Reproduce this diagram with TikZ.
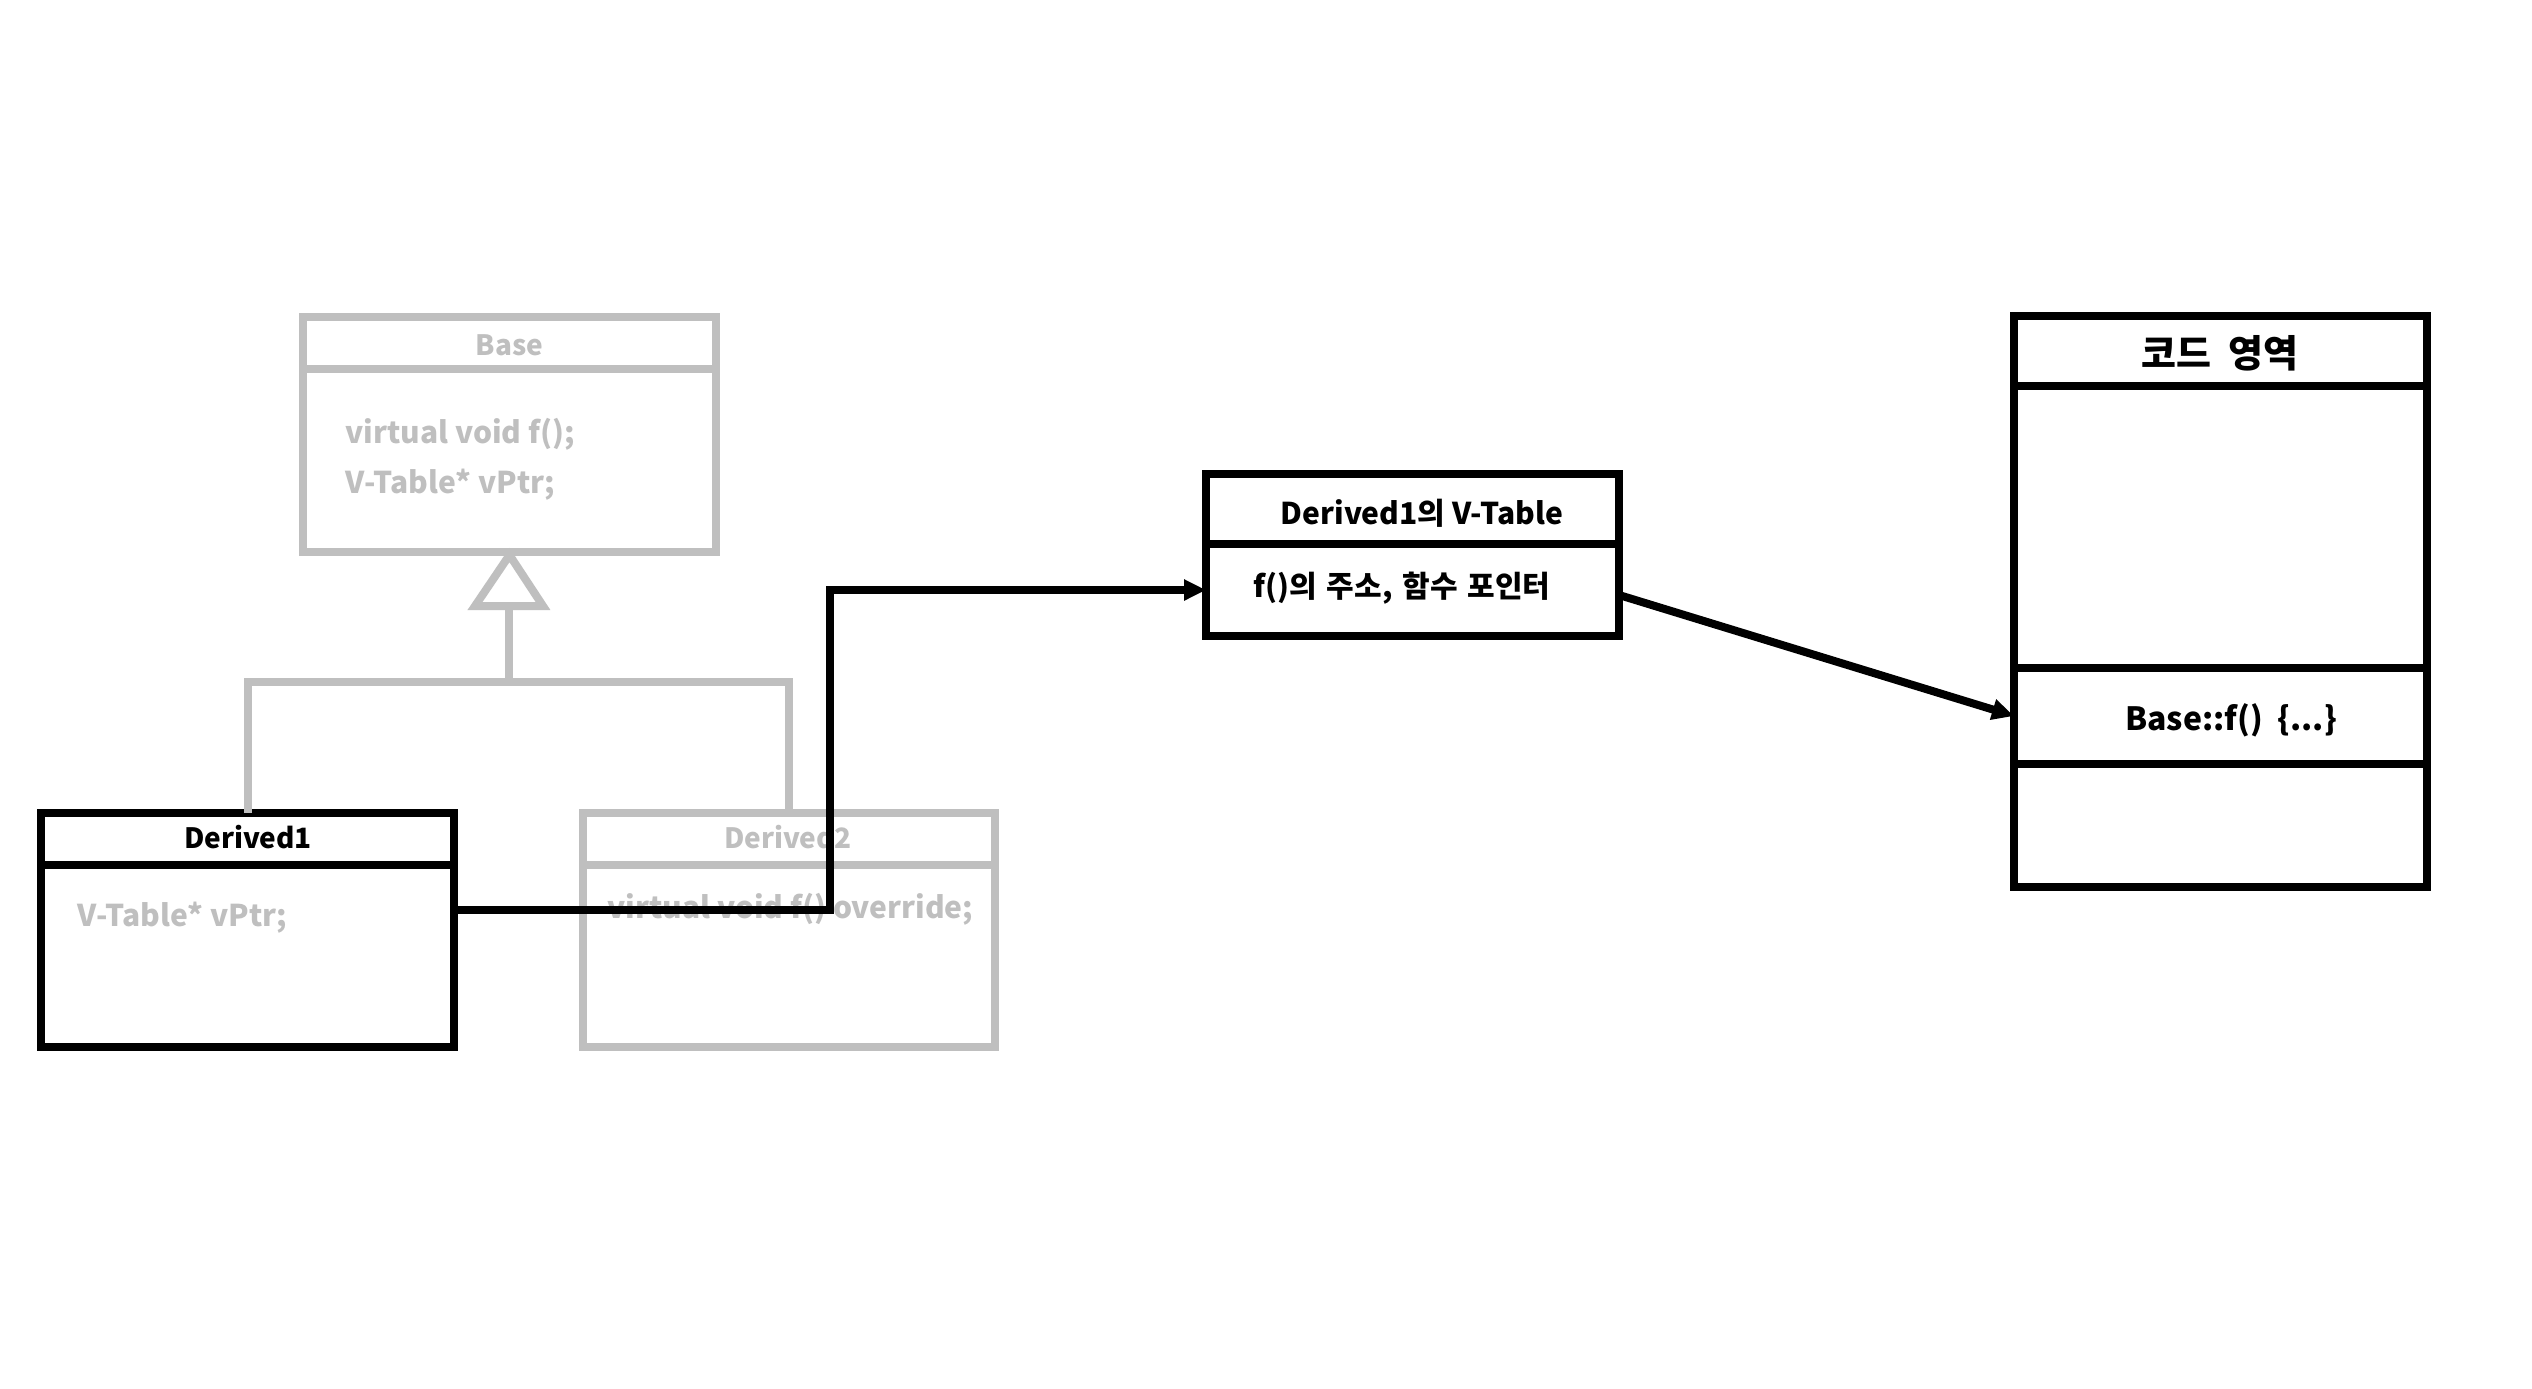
\documentclass[tikz,border=0pt]{standalone}
\usepackage{fontspec}
\setmainfont{Noto Sans CJK KR}
\usetikzlibrary{arrows.meta,calc}
\definecolor{lgrey}{HTML}{BFBFBF}
\begin{document}
\begin{tikzpicture}[x=0.5pt,y=-0.5pt,
  box/.style={draw, line width=4pt, inner sep=0pt, outer sep=0pt, rectangle},
  gbox/.style={box, draw=lgrey},
  bbox/.style={box, draw=black},
  row/.style={inner sep=0pt, outer sep=0pt, rectangle, minimum width=206.5pt},
  gline/.style={draw=lgrey, line width=4pt},
  bline/.style={draw=black, line width=4pt},
  arr/.style={bline, -{Triangle[length=11pt,width=10pt]}},
  ttl/.style={inner sep=0pt, font=\bfseries\fontsize{14pt}{16pt}\selectfont},
  mem/.style={inner sep=0pt, font=\bfseries\fontsize{15pt}{18pt}\selectfont},
]
\useasboundingbox (0,0) rectangle (2532,1388);
\fill[white] (0,0) rectangle (2532,1388);

% Base
\node[gbox, minimum width=206.5pt, minimum height=117.5pt] (base) at (509.5,434.5) {};
\draw[gline] (base.west |- 0,369) -- (base.east |- 0,369);
\node[ttl, text=lgrey] (basettl) at (509.5,345) {Base};
\node[mem, text=lgrey, anchor=west] (basem1) at (345,434) {virtual void f();};
\node[mem, text=lgrey, anchor=west] (basem2) at (345,485) {V-Table* vPtr;};

% Derived1
\node[bbox, minimum width=206.5pt, minimum height=117pt] (d1) at (247.5,930) {};
\draw[bline] (d1.west |- 0,865) -- (d1.east |- 0,865);
\node[ttl, text=black] (d1ttl) at (248,837) {Derived1};
\node[mem, text=lgrey, anchor=west] (d1m) at (77,918) {V-Table* vPtr;};

% Derived2
\node[gbox, minimum width=206pt, minimum height=117pt] (d2) at (789,930) {};
\draw[gline] (d2.west |- 0,865) -- (d2.east |- 0,865);
\node[ttl, text=lgrey] (d2ttl) at (788,837) {Derived2};
\node[mem, text=lgrey, anchor=west] (d2m) at (607,909) {virtual void f() override;};

% inheritance
\coordinate (jn) at (509,682);
\coordinate (tb) at (509,606);
\draw[gline] (d1.north) |- (jn) -| (d2.north);
\draw[gline] (jn) -- (tb);
\draw[draw=lgrey, line width=4pt, fill=white, line join=miter] ($(base.south)+(0,3)$) -- ($(tb)+(-34,0)$) -- ($(tb)+(34,0)$) -- cycle;

% V-Table
\node[bbox, minimum width=206.5pt, minimum height=81pt] (vt) at (1412.5,555) {};
\draw[bline] (vt.west |- 0,544) -- (vt.east |- 0,544);
\node[mem, text=black] (vtttl) at (1422,513) {Derived1의 V-Table};
\node[row, minimum height=46pt] (vtentry) at (1412.5,590) {};
\node[inner sep=0pt, text=black, anchor=west, font=\bfseries\fontsize{15pt}{18pt}\selectfont] (vtm) at (1253,588) {\spaceskip=0.33em\relax f()의 주소, 함수 포인터};

% code area
\node[bbox, minimum width=206.5pt, minimum height=285.5pt] (code) at (2220.5,601.5) {};
\draw[bline] (code.west |- 0,386) -- (code.east |- 0,386);
\draw[bline] (code.west |- 0,668) -- (code.east |- 0,668);
\draw[bline] (code.west |- 0,764) -- (code.east |- 0,764);
\node[inner sep=0pt, font=\bfseries\fontsize{19pt}{22pt}\selectfont] (codettl) at (2220,353) {\spaceskip=0.45em\relax 코드 영역};
\node[row, minimum height=48pt] (codef) at (2220.5,716) {};
\node[inner sep=0pt, font=\bfseries\fontsize{16pt}{19pt}\selectfont] (codefm) at (2231,720) {Base::f()\ \ \{...\}};

% connectors
\draw[arr] (d1.east |- 0,910) -- (830,910) |- (vtentry.west);
\draw[arr] ($(vtentry.east)+(0,5)$) -- (codef.west);
\end{tikzpicture}
\end{document}
